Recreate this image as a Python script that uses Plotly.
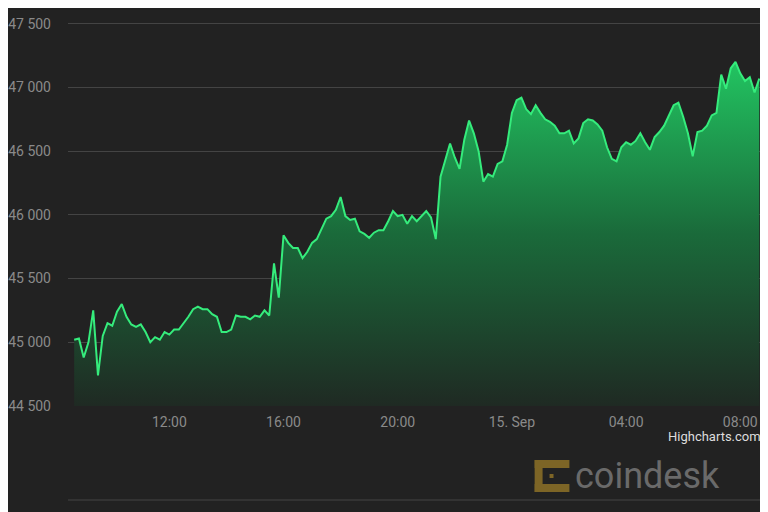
import pandas as pd
import plotly.graph_objects as go

# BTC price, 10-minute steps from 14 Sep 08:40
start = "2021-09-14 08:40"
prices = [
    45020, 45030, 44880, 45000, 45250, 44740, 45050, 45150, 45130, 45240,
    45300, 45200, 45140, 45120, 45140, 45080, 45000, 45040, 45020, 45080,
    45060, 45100, 45100, 45150, 45200, 45260, 45280, 45260, 45260, 45220,
    45200, 45080, 45080, 45100, 45210, 45200, 45200, 45180, 45210, 45200,
    45250, 45210, 45620, 45350, 45840, 45780, 45740, 45740, 45660, 45710,
    45780, 45810, 45890, 45970, 45990, 46040, 46140, 45990, 45960, 45970,
    45870, 45850, 45820, 45860, 45880, 45880, 45950, 46030, 45990, 46000,
    45930, 45990, 45950, 45990, 46030, 45980, 45810, 46300, 46420, 46560,
    46450, 46360, 46590, 46740, 46640, 46500, 46260, 46320, 46300, 46400,
    46420, 46550, 46800, 46900, 46920, 46830, 46790, 46860, 46800, 46750,
    46730, 46700, 46640, 46640, 46660, 46560, 46600, 46720, 46750, 46740,
    46710, 46660, 46530, 46440, 46420, 46530, 46570, 46550, 46580, 46640,
    46570, 46510, 46610, 46650, 46700, 46780, 46860, 46880, 46770, 46640,
    46460, 46650, 46660, 46700, 46780, 46800, 47100, 46990, 47150, 47200,
    47110, 47050, 47080, 46960, 47070,
]
times = pd.date_range(start, periods=len(prices), freq="10min")
floor = 44500

tick_vals = ["2021-09-14 12:00", "2021-09-14 16:00", "2021-09-14 20:00",
             "2021-09-15 00:00", "2021-09-15 04:00", "2021-09-15 08:00"]
tick_text = ["12:00", "16:00", "20:00", "15. Sep", "04:00", "08:00"]
y_ticks = [44500, 45000, 45500, 46000, 46500, 47000, 47500]

fig = go.Figure()
fig.add_trace(go.Scatter(x=times, y=[floor] * len(prices), mode="lines",
                         line=dict(width=0), hoverinfo="skip"))
fig.add_trace(go.Scatter(
    x=times, y=prices, mode="lines",
    line=dict(color="#35ec7c", width=2),
    fill="tonexty",
    fillgradient=dict(type="vertical",
                      colorscale=[[0, "#1f2a23"], [0.5, "#1a6a3a"], [1, "#22c461"]]),
    hoverinfo="skip",
))

# page is offset ~8px by the browser, so work in shifted pixels
L, B = 55, 398
W, H = 702, 398
def px(x):
    return (x - 8 - L) / W
def py(y):
    return (B - (y - 8)) / H

gold = "#7d6526"
shapes = [
    dict(type="line", xref="paper", yref="paper", x0=0, x1=1, y0=py(500), y1=py(500),
         line=dict(color="#444", width=1)),
    dict(type="rect", xref="paper", yref="paper", x0=px(533), x1=px(541), y0=py(492), y1=py(460),
         fillcolor=gold, line_width=0),
    dict(type="rect", xref="paper", yref="paper", x0=px(533), x1=px(568), y0=py(468), y1=py(460),
         fillcolor=gold, line_width=0),
    dict(type="rect", xref="paper", yref="paper", x0=px(533), x1=px(568), y0=py(492), y1=py(484),
         fillcolor=gold, line_width=0),
    dict(type="rect", xref="paper", yref="paper", x0=px(548), x1=px(552), y0=py(478), y1=py(474),
         fillcolor=gold, line_width=0),
]

fig.update_layout(
    width=760, height=504,
    margin=dict(l=L, r=3, t=0, b=106),
    paper_bgcolor="#222222", plot_bgcolor="#222222",
    font=dict(family="Roboto, Open Sans, sans-serif", color="#8a8a8a", size=14),
    separators=". ",
    showlegend=False,
    shapes=shapes,
    xaxis=dict(range=["2021-09-14 08:27", "2021-09-15 08:52"], tickvals=tick_vals,
               ticktext=tick_text, showgrid=False, zeroline=False, ticks="", ticklabelstandoff=6),
    yaxis=dict(range=[44500, 47623], tickvals=y_ticks, tickformat=",d", gridcolor="#444",
               zeroline=False, ticklabelstandoff=16),
    annotations=[
        dict(text="Highcharts.com", xref="paper", yref="paper", x=px(763), y=py(436),
             xanchor="right", yanchor="middle", showarrow=False,
             font=dict(color="#dddddd", size=13)),
        dict(text="coindesk", xref="paper", yref="paper", x=px(572), y=py(476),
             xanchor="left", yanchor="middle", showarrow=False,
             font=dict(color="#6a6a6a", size=36)),
    ],
)

fig.write_html("out.html")
